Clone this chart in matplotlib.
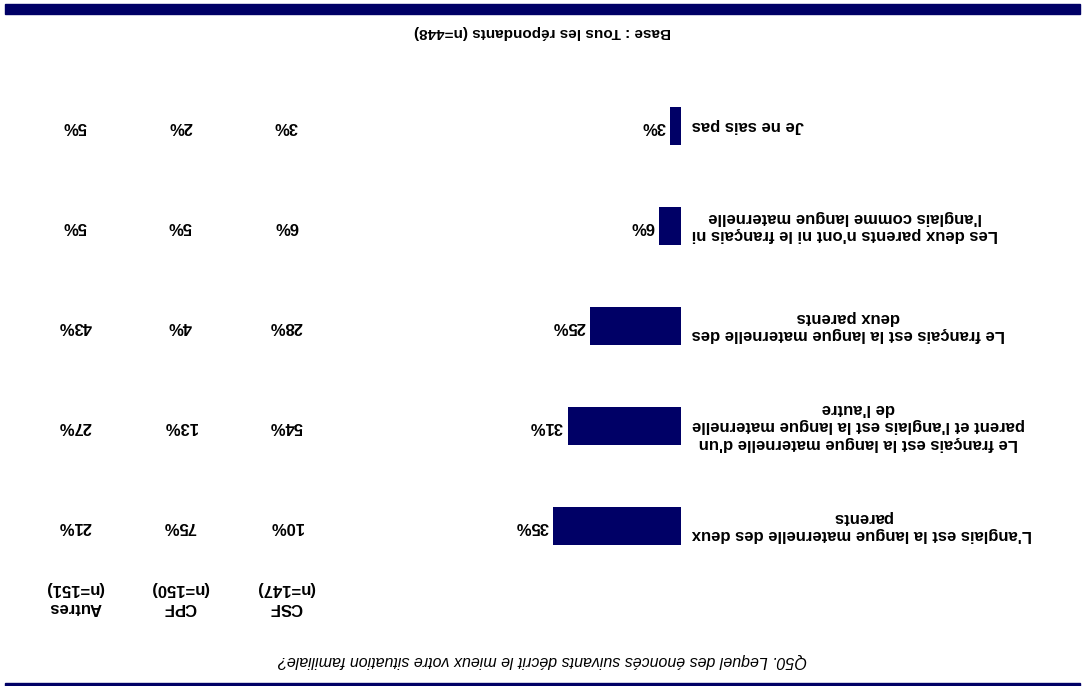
import matplotlib.pyplot as plt
import matplotlib.transforms as mtransforms
from matplotlib.patches import Rectangle

# === Data (figure is shown upside down, like the reference) ===
categories = [
    "L'anglais est la langue maternelle des deux\nparents",
    "Le français est la langue maternelle d'un\nparent et l'anglais est la langue maternelle\nde l'autre",
    "Le français est la langue maternelle des\ndeux parents",
    "Les deux parents n'ont ni le français ni\nl'anglais comme langue maternelle",
    "Je ne sais pas",
]
total = [35, 31, 25, 6, 3]
csf = [10, 54, 28, 6, 3]
cpf = [75, 13, 4, 5, 2]
autres = [21, 27, 43, 5, 5]
col_headers = ["CSF\n(n=147)", "CPF\n(n=150)", "Autres\n(n=151)"]
title = "Q50. Lequel des énoncés suivants décrit le mieux votre situation familiale?"
base = "Base : Tous les répondants (n=448)"

NAVY = '#000066'
W, H = 1085, 686
plt.rcParams['font.family'] = ['Liberation Sans', 'DejaVu Sans']

fig = plt.figure(figsize=(W / 100, H / 100), dpi=100)

# bands (top thin, bottom thick in the upside-down picture)
fig.patches.append(Rectangle((5 / W, (H - 14) / H), (W - 10) / W, 10 / H,
                             transform=fig.transFigure, color=NAVY, zorder=0))
fig.patches.append(Rectangle((5 / W, 0), (W - 10) / W, 3 / H,
                             transform=fig.transFigure, color=NAVY, zorder=0))

# bar axes: x inverted, 0 on the right
ax = fig.add_axes([535 / W, 110 / H, 146 / W, 500 / H])
ax.set_xlim(40, 0)
ax.set_ylim(-0.5, 4.5)
ax.axis('off')
ypos = list(range(len(categories)))
ax.barh(ypos, total, height=0.38, color=NAVY)

for i, (lab, v) in enumerate(zip(categories, total)):
    ax.annotate(f"{v}%", (v, i), xytext=(-3.5, 0), textcoords='offset points',
                rotation=180, ha='right', va='center', fontsize=12,
                fontweight='bold', annotation_clip=False)
    ax.text(-3, i, lab, rotation=180, ha='left', va='center',
            multialignment='center', fontsize=12, fontweight='bold',
            clip_on=False)

# columns of subgroup values
tr = mtransforms.blended_transform_factory(fig.transFigure, ax.transData)
col_x = [286 / W, 180 / W, 75 / W]
for cx, vals, head in zip(col_x, [csf, cpf, autres], col_headers):
    for i, v in enumerate(vals):
        fig.text(cx, i, f"{v}%", transform=tr, rotation=180, ha='center',
                 va='center', fontsize=12, fontweight='bold')
    fig.text(cx, 1 - 598 / H, head, rotation=180, ha='center', va='center',
             multialignment='center', fontsize=12, fontweight='bold',
             linespacing=1.35)

fig.text(0.5, 1 - 660 / H, title, rotation=180, ha='center', va='center',
         fontsize=11.5, style='italic')
fig.text(0.5, 1 - 32 / H, base, rotation=180, ha='center', va='center',
         fontsize=11, fontweight='bold')

fig.savefig('out.png', dpi=100)
